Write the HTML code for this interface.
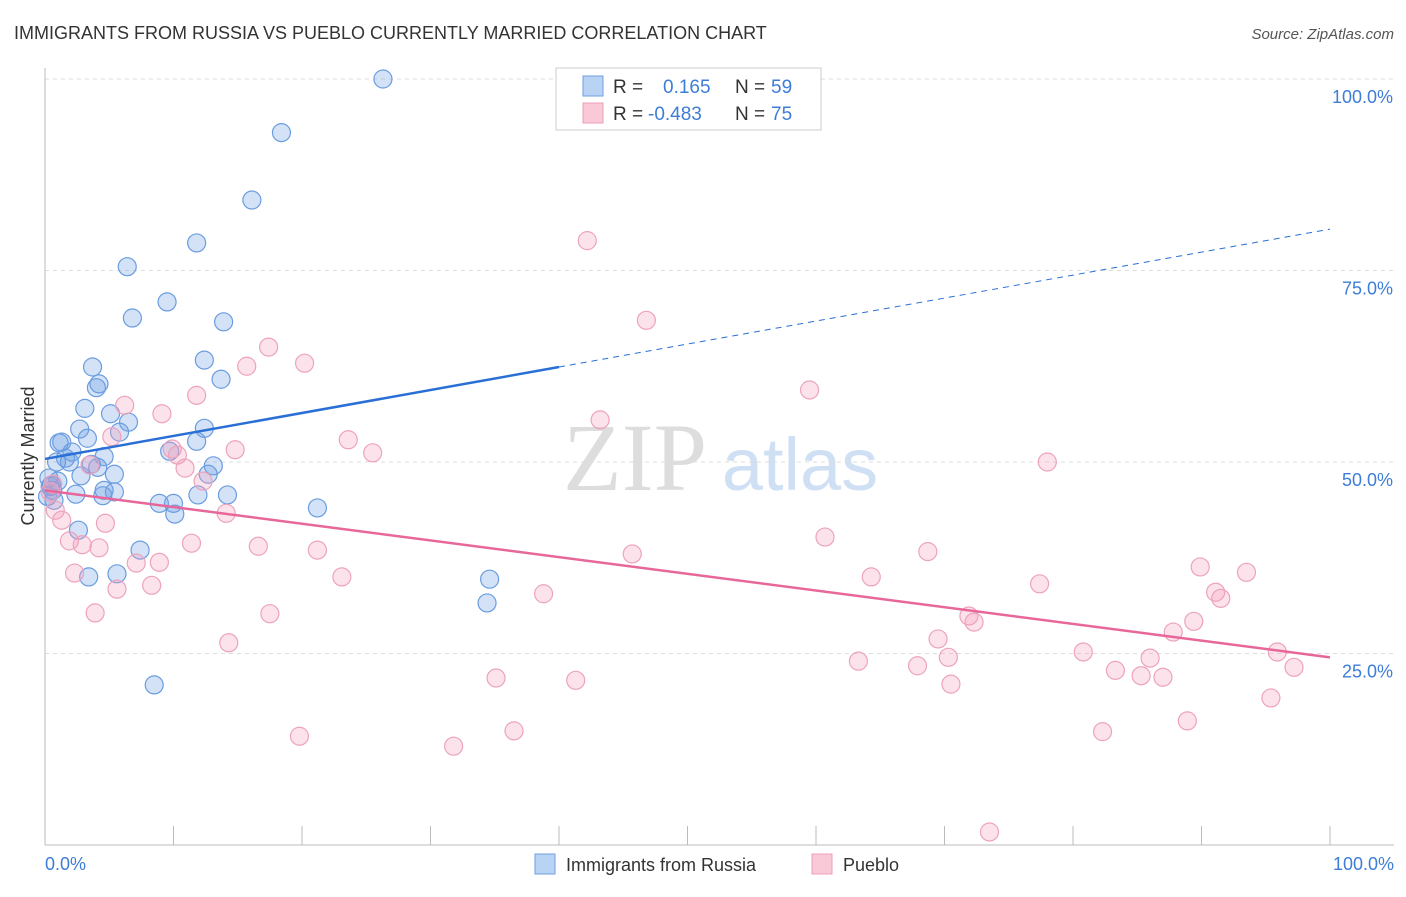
<!DOCTYPE html>
<html><head><meta charset="utf-8"><style>
body{margin:0;background:#fff;font-family:"Liberation Sans",sans-serif;}
</style></head><body>
<svg width="1406" height="892" viewBox="0 0 1406 892" xmlns="http://www.w3.org/2000/svg">
<text x="14" y="39" font-size="18" fill="#333">IMMIGRANTS FROM RUSSIA VS PUEBLO CURRENTLY MARRIED CORRELATION CHART</text>
<text x="1394" y="39" font-size="15" fill="#555" font-style="italic" text-anchor="end">Source: ZipAtlas.com</text>
<g><text x="635" y="490" font-size="96" font-family="Liberation Serif,serif" fill="#ddd" text-anchor="middle">ZIP</text><text x="800" y="490" font-size="74" fill="#cfe0f5" text-anchor="middle">atlas</text></g>
<g id="grid"></g>
<line x1="45" y1="68" x2="45" y2="845" stroke="#bbb"/>
<line x1="45" y1="845" x2="1394" y2="845" stroke="#bbb"/>
<text transform="translate(34,456) rotate(-90)" font-size="18" fill="#333" text-anchor="middle">Currently Married</text>
<text x="45" y="870" font-size="18" fill="#3d7dd8">0.0%</text>
<text x="1394" y="870" font-size="18" fill="#3d7dd8" text-anchor="end">100.0%</text>
<g id="marks"></g>
<g>
<rect x="556" y="68" width="265" height="62" fill="#fff" stroke="#ccc"/>
<rect x="583" y="76" width="20" height="20" fill="#b9d3f5" stroke="#6e9fe0"/>
<rect x="583" y="103" width="20" height="20" fill="#f9c9d8" stroke="#eba0b9"/>
<text x="613" y="93" font-size="19" fill="#333">R =</text><text x="663" y="93" font-size="19" fill="#3d7dd8">0.165</text>
<text x="735" y="93" font-size="19" fill="#333">N =</text><text x="771" y="93" font-size="19" fill="#3d7dd8">59</text>
<text x="613" y="120" font-size="19" fill="#333">R =</text><text x="648" y="120" font-size="19" fill="#3d7dd8">-0.483</text>
<text x="735" y="120" font-size="19" fill="#333">N =</text><text x="771" y="120" font-size="19" fill="#3d7dd8">75</text>
</g>
<g>
<rect x="535" y="854" width="20" height="20" fill="#b9d3f5" stroke="#6e9fe0"/>
<text x="566" y="871" font-size="18" fill="#333">Immigrants from Russia</text>
<rect x="812" y="854" width="20" height="20" fill="#f9c9d8" stroke="#eba0b9"/>
<text x="843" y="871" font-size="18" fill="#333">Pueblo</text>
</g>
</svg>
<script>
const yTicks=[25,50,75,100];
const yTickLabels=["25.0%","50.0%","75.0%","100.0%"];
const xTicks=[0,10,20,30,40,50,60,70,80,90,100];
const blueX=[26.3,18.4,16.1,11.8,6.4,9.5,6.8,13.9,3.7,12.4,13.7,4.2,4.0,3.1,5.1,6.5,2.7,5.8,12.4,3.3,1.3,1.1,11.8,9.7,2.1,1.6,1.9,4.6,3.6,0.9,13.1,4.1,2.8,5.4,12.7,0.3,0.5,0.6,2.4,4.6,5.4,4.5,11.9,14.2,8.9,10.0,10.1,21.2,0.7,2.6,7.4,3.4,5.6,34.6,34.4,8.5,0.4,0.2,1.0];
const blueY=[100,93.0,84.2,78.6,75.5,70.9,68.8,68.3,62.4,63.3,60.8,60.2,59.7,57.0,56.3,55.2,54.3,53.9,54.4,53.1,52.6,52.5,52.7,51.4,51.3,50.5,50.0,50.7,49.7,50.0,49.5,49.3,48.2,48.4,48.4,47.9,47.0,46.3,45.8,46.3,46.1,45.6,45.7,45.7,44.6,44.6,43.2,44.0,45.0,41.1,38.5,35.0,35.4,34.7,31.6,20.9,46.8,45.5,47.5];
const pinkX=[42.2,46.8,17.4,20.2,15.7,59.5,11.8,6.2,9.1,43.2,5.2,23.6,14.8,25.5,9.9,10.3,78.0,3.5,10.9,12.3,0.6,0.4,0.8,14.1,1.3,4.7,60.7,1.9,2.9,11.4,16.6,4.2,21.2,68.7,45.7,8.9,7.1,2.3,23.1,64.3,93.5,89.9,8.3,77.4,5.6,38.8,91.1,91.5,3.9,17.5,71.9,72.3,89.4,87.8,69.5,14.3,80.8,95.9,70.3,63.3,67.9,86.0,83.3,97.2,85.3,87.0,35.1,41.3,70.5,95.4,88.9,36.5,82.3,19.8,31.8,73.5];
const pinkY=[78.9,68.5,65.0,62.9,62.5,59.4,58.7,57.4,56.3,55.5,53.3,52.9,51.6,51.2,51.7,50.9,50.0,49.6,49.2,47.5,47.1,46.1,43.7,43.3,42.4,42.0,40.2,39.7,39.2,39.4,39.0,38.8,38.5,38.3,38.0,36.9,36.8,35.5,35.0,35.0,35.6,36.3,33.9,34.1,33.4,32.8,33.0,32.2,30.3,30.2,29.9,29.1,29.2,27.8,26.9,26.4,25.2,25.2,24.5,24.0,23.4,24.4,22.8,23.2,22.1,21.9,21.8,21.5,21.0,19.2,16.2,14.9,14.8,14.2,12.9,1.7];
const blueTrend=[50.4,80.4];
const pinkTrend=[46.3,24.5];
const blueSolidEnd=40;

const NS="http://www.w3.org/2000/svg";
const sx=v=>45+v*12.85, sy=v=>845-v*7.66;
function mk(tag,attrs,parent){const e=document.createElementNS(NS,tag);for(const k in attrs)e.setAttribute(k,attrs[k]);parent.appendChild(e);return e;}
const grid=document.getElementById('grid'), marks=document.getElementById('marks');
yTicks.forEach((t,i)=>{
  const l=mk('line',{x1:45,x2:1394,y1:sy(t),y2:sy(t),stroke:'#ddd','stroke-dasharray':'4,4'},grid);
  
  
  const tx=mk('text',{x:1393,y:sy(t)+24,'font-size':18,fill:'#3d7dd8','text-anchor':'end'},grid);
  tx.textContent=yTickLabels[i];
  
  
});
xTicks.forEach(t=>{
  const l=mk('line',{x1:sx(t),x2:sx(t),y1:826,y2:845,stroke:'#bbb'},grid);
  
  
});
blueX.forEach((x,i)=>{
  const c=mk('circle',{cx:sx(x),cy:sy(blueY[i]),r:9,fill:'rgba(110,160,230,0.3)',stroke:'#6a9de0','stroke-width':1.2},marks);
  
  
});
pinkX.forEach((x,i)=>{
  const c=mk('circle',{cx:sx(x),cy:sy(pinkY[i]),r:9,fill:'rgba(245,160,190,0.3)',stroke:'#eda3bc','stroke-width':1.2},marks);
  
  
});
const by=x=>blueTrend[0]+(blueTrend[1]-blueTrend[0])*x/100;
const b1=mk('line',{x1:sx(0),y1:sy(by(0)),x2:sx(blueSolidEnd),y2:sy(by(blueSolidEnd)),stroke:'#2a6fd6','stroke-width':2.5},marks);


const b2=mk('line',{x1:sx(blueSolidEnd),y1:sy(by(blueSolidEnd)),x2:sx(100),y2:sy(by(100)),stroke:'#2a6fd6','stroke-width':1,'stroke-dasharray':'6,5'},marks);


const p1=mk('line',{x1:sx(0),y1:sy(pinkTrend[0]),x2:sx(100),y2:sy(pinkTrend[1]),stroke:'#e8679a','stroke-width':2.5},marks);


</script>
</body></html>
